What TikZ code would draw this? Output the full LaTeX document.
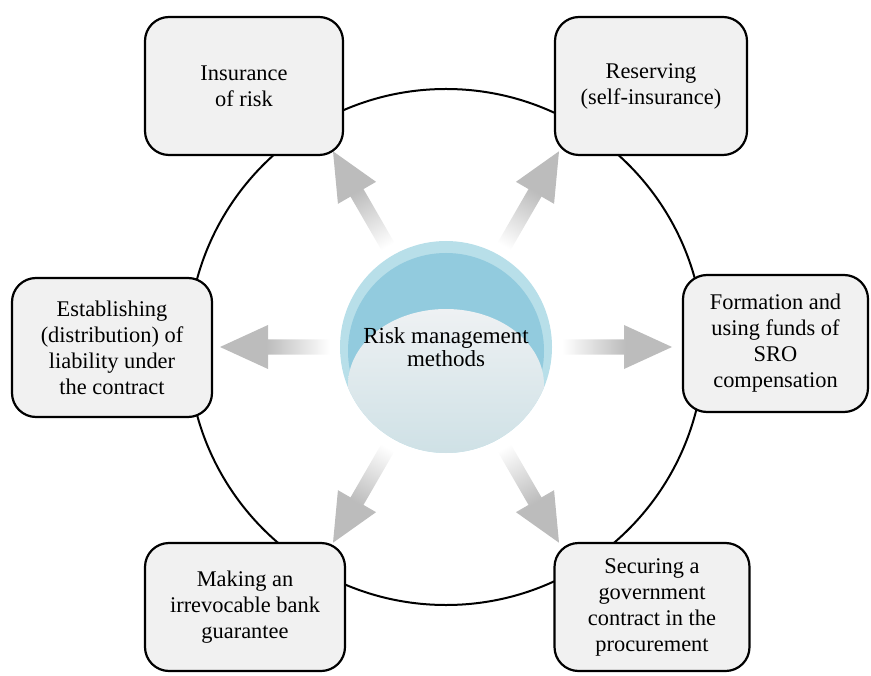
\documentclass[tikz,border=0pt]{standalone}
\usepackage{fontspec}
\setmainfont{Liberation Serif}
\usetikzlibrary{backgrounds}
\definecolor{boxgray}{RGB}{241,241,241}
\definecolor{arrowgray}{RGB}{188,188,188}
\definecolor{ringblue}{RGB}{184,223,233}
\definecolor{crescentblue}{RGB}{146,203,222}
\definecolor{coretop}{RGB}{238,241,243}
\definecolor{corebottom}{RGB}{205,224,229}
\pgfdeclarehorizontalshading{arrowfade}{100bp}{color(0bp)=(white); color(30bp)=(white); color(56bp)=(arrowgray); color(100bp)=(arrowgray)}
\tikzset{
    method/.style={rectangle, rounded corners=12pt, draw=black, line width=1.1pt, fill=boxgray, align=center, inner sep=0pt, font=\fontsize{11.2}{13}\selectfont},
    hub/.style={circle, fill=ringblue, minimum size=106pt, inner sep=0pt, align=center, font=\fontsize{11.5}{11.5}\selectfont,
        path picture={
            \fill[crescentblue] ([yshift=-2pt]path picture bounding box.center) circle (49pt);
            \shade[top color=coretop, bottom color=corebottom] ([yshift=-19pt]path picture bounding box.center) ellipse (49pt and 38pt);
        }},
    ring/.style={draw=black, line width=1pt},
    fadearrow/.style={shading=arrowfade},
}
\begin{document}
\begin{tikzpicture}[x=0.5pt, y=0.5pt]
    \useasboundingbox (0,0) rectangle (871,675);
    \node[hub] (hub) at (446,328) {Risk management\\methods};
    \node[method, minimum width=99pt, minimum height=69pt] (insurance) at (244,589) {Insurance\\of risk};
    \node[method, minimum width=96pt, minimum height=69pt] (reserving) at (651,589) {Reserving\\(self-insurance)};
    \node[method, minimum width=100pt, minimum height=69.5pt] (liability) at (112,327.5) {Establishing\\(distribution) of\\liability under\\the contract};
    \node[method, minimum width=92.5pt, minimum height=68.5pt] (funds) at (775.5,331.5) {Formation and\\using funds of\\SRO\\compensation};
    \node[method, minimum width=100pt, minimum height=64pt] (guarantee) at (245,68) {Making an\\irrevocable bank\\guarantee};
    \node[method, minimum width=97.5pt, minimum height=64pt] (procurement) at (652,68) {Securing a\\government\\contract in the\\procurement};
    \begin{pgfonlayer}{background}
        \draw[ring] (hub.center) circle (129pt);
        \foreach \a in {0,60,...,300} {
            \begin{scope}[transform canvas={shift={(hub.center)}, rotate=\a}]
                \shade[fadearrow] (104,-7.5) -- (178,-7.5) -- (178,-22) -- (226,0) -- (178,22) -- (178,7.5) -- (104,7.5) -- cycle;
            \end{scope}
        }
    \end{pgfonlayer}
\end{tikzpicture}
\end{document}
